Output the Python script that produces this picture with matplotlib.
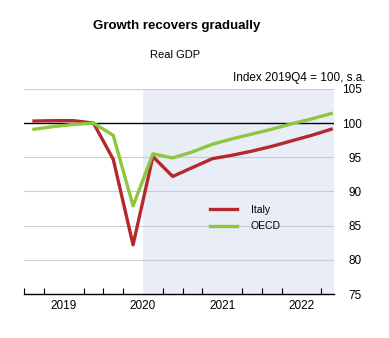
import matplotlib
matplotlib.use("Agg")
import matplotlib.pyplot as plt
import numpy as np

plt.rcParams['font.family'] = ['Liberation Sans', 'DejaVu Sans']

# quarterly data, 2019Q1 .. 2022Q4
quarters = ['2019Q1', '2019Q2', '2019Q3', '2019Q4',
            '2020Q1', '2020Q2', '2020Q3', '2020Q4',
            '2021Q1', '2021Q2', '2021Q3', '2021Q4',
            '2022Q1', '2022Q2', '2022Q3', '2022Q4']
italy = [100.3, 100.35, 100.35, 100.0, 94.7, 82.2, 95.1, 92.2,
         93.5, 94.8, 95.3, 95.9, 96.6, 97.4, 98.2, 99.1]
oecd = [99.1, 99.5, 99.8, 100.0, 98.2, 87.9, 95.5, 94.9,
        95.8, 96.9, 97.7, 98.4, 99.1, 99.9, 100.6, 101.4]
years = ['2019', '2020', '2021', '2022']
projection_start = 6  # quarter boundary where projections begin (2020Q3)

red = '#B5282E'
green = '#8DC63F'

fig = plt.figure(figsize=(3.89, 3.38), dpi=100)
ax = fig.add_axes([0.062, 0.130, 0.797, 0.607])

x = np.arange(len(quarters)) + 0.5
ax.axvspan(projection_start, 15.65, color='#E9EDF6', zorder=0, lw=0)

for v in [80, 85, 90, 95, 105]:
    ax.axhline(v, color='#CCCCCC', lw=0.8, zorder=1)
ax.axhline(100, color='black', lw=1.0, zorder=2)

ax.plot(x, italy, color=red, lw=2.4, label='Italy', zorder=3)
ax.plot(x, oecd, color=green, lw=2.4, label='OECD', zorder=3)

ax.set_xlim(0, 15.65)
ax.set_ylim(75, 105)

for s in ['top', 'left', 'right']:
    ax.spines[s].set_visible(False)
ax.spines['bottom'].set_color('black')
ax.spines['bottom'].set_linewidth(1.0)

ax.set_xticks(np.arange(0, 16), minor=True)
ax.set_xticks([2, 6, 10, 14])
ax.set_xticklabels(years)
ax.tick_params(axis='x', which='major', length=0, pad=4, labelsize=8.5)
ax.tick_params(axis='x', which='minor', length=4, width=0.8, direction='in')

ax.yaxis.tick_right()
ax.set_yticks([75, 80, 85, 90, 95, 100, 105])
ax.tick_params(axis='y', length=0, pad=20, labelsize=8.5)
for lab in ax.get_yticklabels():
    lab.set_horizontalalignment('right')

leg = ax.legend(loc='upper left', bbox_to_anchor=(0.57, 0.48), frameon=False,
                fontsize=7.5, handlelength=2.6, labelspacing=0.6, handletextpad=1.3)

fig.text(0.455, 0.923, 'Growth recovers gradually', ha='center', va='center',
         fontsize=9.5, fontweight='bold')
fig.text(0.45, 0.837, 'Real GDP', ha='center', va='center', fontsize=8)
fig.text(0.94, 0.769, 'Index 2019Q4 = 100, s.a.', ha='right', va='center', fontsize=8.5)

fig.savefig('out.png', dpi=100)
